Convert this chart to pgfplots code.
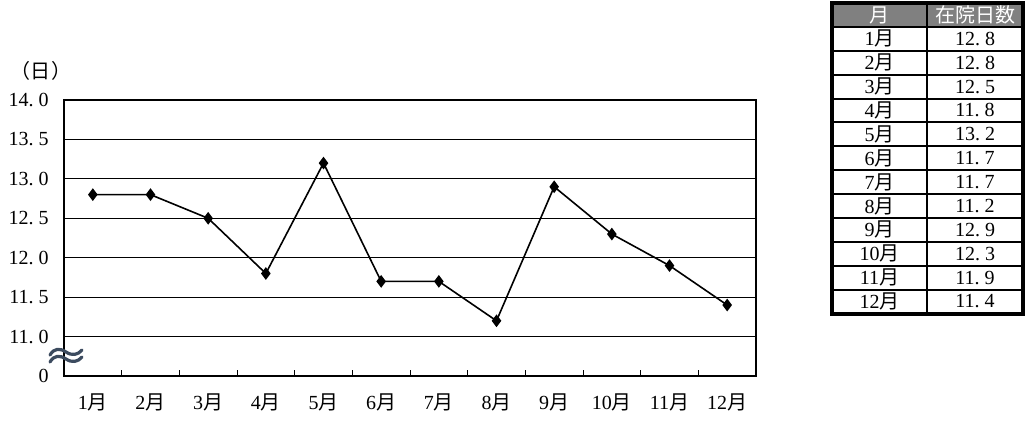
\documentclass[border=0pt]{standalone}
\usepackage{pgfplots}
\pgfplotsset{compat=1.18}
\usepackage{fontspec}
\setmainfont{Liberation Serif}
\newfontfamily\cjk{Noto Sans CJK JP}
\newcommand\pd{\makebox[0.5em][l]{.}}
\newcommand\M{{\cjk 月}}
\newcommand\lf{\fontsize{15}{17}\selectfont}
\definecolor{brk}{RGB}{60,75,95}
\begin{document}
\begin{tikzpicture}
\useasboundingbox (0,0) rectangle (770.25pt,-316.5pt);
\begin{axis}[
  at={(48pt,-282pt)}, anchor=south west,
  width=519pt, height=207pt, scale only axis,
  xmin=0.5, xmax=12.5, ymin=10.5, ymax=14,
  xtick={1,...,12},
  xticklabels={1\M,2\M,3\M,4\M,5\M,6\M,7\M,8\M,9\M,10\M,11\M,12\M},
  minor xtick={1.5,2.5,...,11.5},
  major tick length=0pt,
  minor tick length=4.5pt,
  tick align=inside,
  xtick pos=bottom,
  ytick pos=left,
  ytick={10.5,11,11.5,12,12.5,13,13.5,14},
  yticklabels={0,11\pd0,11\pd5,12\pd0,12\pd5,13\pd0,13\pd5,14\pd0},
  ymajorgrids,
  grid style={black, line width=0.75pt},
  minor tick style={black, line width=0.75pt},
  axis line style={black, line width=1.5pt},
  xticklabel style={font=\lf, yshift=-9.5pt},
  yticklabel style={font=\lf, xshift=-8pt},
  clip=false,
]
\addplot[black, line width=1.2pt, mark=diamond*, mark size=3.8pt] coordinates {
  (1,12.8) (2,12.8) (3,12.5) (4,11.8) (5,13.2) (6,11.7)
  (7,11.7) (8,11.2) (9,12.9) (10,12.3) (11,11.9) (12,11.4)
};
\end{axis}
\begin{scope}[x=0.75pt,y=-0.75pt]
  \node[font=\cjk\lf] at (41,71) {（日）};
  % axis break mark
  \foreach \dy in {0,7} {
    \draw[brk, line width=2.4pt, line cap=round]
      (50,{355+\dy}) .. controls (54,{348+\dy}) and (60,{348+\dy}) .. (66,{352+\dy})
      .. controls (72,{356+\dy}) and (78,{355+\dy}) .. (82,{350+\dy});
  }
  % table
  \fill[black!50] (832,3) rectangle (1023,26.88);
  \foreach \i in {1,...,12} {
    \draw[line width=1.5pt] (832,{3+\i*23.88}) -- (1023,{3+\i*23.88});
  }
  \draw[line width=1.5pt] (927,3) -- (927,313.5);
  \draw[line width=3pt] (832,3) rectangle (1023,313.5);
  \node[text=white, font=\cjk\fontsize{15}{18}\selectfont] at (879.5,15) {月};
  \node[text=white, font=\cjk\fontsize{15}{18}\selectfont] at (975,15) {在院日数};
  \foreach \m/\v [count=\i] in {1/12\pd8,2/12\pd8,3/12\pd5,4/11\pd8,5/13\pd2,6/11\pd7,7/11\pd7,8/11\pd2,9/12\pd9,10/12\pd3,11/11\pd9,12/11\pd4} {
    \node[font=\lf] at (879.5,{3+(\i+0.5)*23.88}) {\m\M};
    \node[font=\lf] at (975,{3+(\i+0.5)*23.88}) {\v};
  }
\end{scope}
\end{tikzpicture}
\end{document}
